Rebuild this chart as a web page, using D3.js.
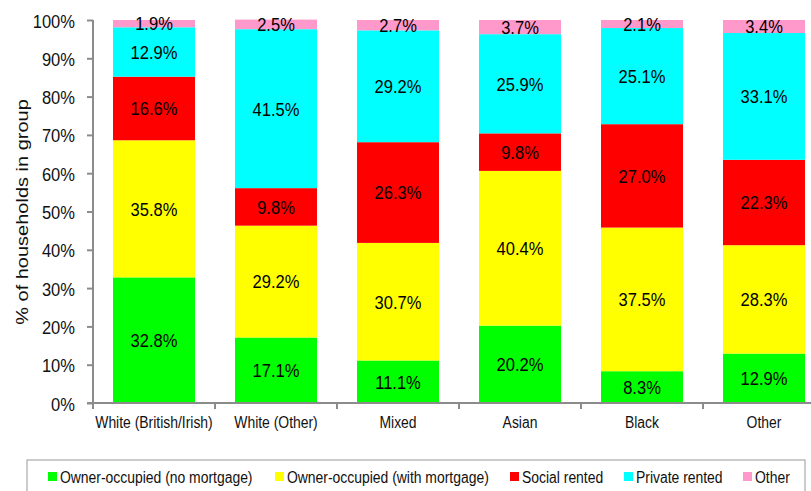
<!DOCTYPE html>
<html lang="en"><head>
<meta charset="utf-8">
<title>tenure by ethnic group</title>
<script type="text/javascript" src="https://cdn.jsdelivr.net/npm/d3@7"></script>
<style type="text/css">
  body { margin: 0; background: #fff; }
  text { font-family: Arial, "Liberation Sans", sans-serif; }
</style>
</head>
<body>
<svg width="811" height="491"></svg>
<script type="text/javascript">

    var categories = ["White (British/Irish)", "White (Other)", "Mixed", "Asian", "Black", "Other"];
    var seriesNames = ["Owner-occupied (no mortgage)", "Owner-occupied (with mortgage)", "Social rented", "Private rented", "Other"];
    var seriesColors = ["#00ff00", "#ffff00", "#ff0000", "#00ffff", "#ff99cc"];

    var noMortgage   = [32.8, 17.1, 11.1, 20.2, 8.3, 12.9];
    var withMortgage = [35.8, 29.2, 30.7, 40.4, 37.5, 28.3];
    var socialRented = [16.6, 9.8, 26.3, 9.8, 27.0, 22.3];
    var privateRented = [12.9, 41.5, 29.2, 25.9, 25.1, 33.1];
    var otherTenure  = [1.9, 2.5, 2.7, 3.7, 2.1, 3.4];

    var yTicks = [0, 10, 20, 30, 40, 50, 60, 70, 80, 90, 100];

    var svg = d3.select("svg"),
        width = +svg.attr("width"),
        height = +svg.attr("height");

    // the original text looks a bit narrow, so squeeze it sideways
    var squeeze = 0.87;
    function at(px, py) { return "translate(" + px + "," + py + ") scale(" + squeeze + ",1)"; }

    var series = [noMortgage, withMortgage, socialRented, privateRented, otherTenure];

    // one row per category for d3.stack
    var rows = categories.map(function(c, i) {
        var r = {cat: c};
        seriesNames.forEach(function(s, j) { r[s] = series[j][i]; });
        return r;
    });

    var stacked = d3.stack().keys(seriesNames)(rows);

    var x = d3.scaleBand()
              .domain(categories)
              .range([93, 825])
              .paddingInner(0.328)
              .paddingOuter(0.164);

    var y = d3.scaleLinear()
              .domain([0, 100])
              .range([403, 20]);

    var color = d3.scaleOrdinal().domain(seriesNames).range(seriesColors);

    // bars
    var layer = svg.append("g")
       .selectAll("g")
       .data(stacked)
       .enter()
       .append("g")
       .attr("fill", function(d) { return color(d.key); });

    layer.selectAll("rect")
       .data(function(d) { return d; })
       .enter()
       .append("rect")
       .attr("x", function(d) { return x(d.data.cat); })
       .attr("y", function(d) { return y(d[1]); })
       .attr("width", x.bandwidth())
       .attr("height", function(d) { return y(d[0]) - y(d[1]); });

    // value labels in the middle of each piece
    layer.selectAll("text")
       .data(function(d) { return d.map(function(p) { p.key = d.key; return p; }); })
       .enter()
       .append("text")
       .attr("transform", function(d) {
           return at(x(d.data.cat) + x.bandwidth() / 2, y((d[0] + d[1]) / 2));
       })
       .attr("dy", "0.36em")
       .attr("text-anchor", "middle")
       .attr("fill", "#000")
       .style("font-size", "19px")
       .text(function(d) { return d.data[d.key].toFixed(1) + "%"; });

    // y axis
    var yAxis = svg.append("g")
       .attr("transform", "translate(93,0)")
       .call(d3.axisLeft(y).tickValues(yTicks).tickSize(6)
             .tickFormat(function(d) { return d + "%"; }));
    yAxis.selectAll("path, line").attr("stroke", "#8c8c8c").attr("stroke-width", 2);
    yAxis.select(".domain").attr("d", "M0,403V20");
    yAxis.selectAll("text")
       .attr("x", null)
       .attr("transform", at(-18, 1))
       .style("font-size", "19px")
       .attr("fill", "#111")
       .attr("font-family", null);

    // x axis
    var xAxis = svg.append("g")
       .attr("transform", "translate(0,403)");
    xAxis.append("line")
       .attr("x1", 87).attr("x2", 825)
       .attr("stroke", "#8c8c8c").attr("stroke-width", 2);
    xAxis.selectAll(".tick")
       .data(d3.range(categories.length + 1))
       .enter()
       .append("line")
       .attr("x1", function(i) { return 93 + i * x.step(); })
       .attr("x2", function(i) { return 93 + i * x.step(); })
       .attr("y1", 0).attr("y2", 6)
       .attr("stroke", "#8c8c8c").attr("stroke-width", 2);
    xAxis.selectAll("text")
       .data(categories)
       .enter()
       .append("text")
       .attr("transform", function(d) { return at(x(d) + x.bandwidth() / 2, 25); })
       .attr("text-anchor", "middle")
       .attr("fill", "#111")
       .style("font-size", "16px")
       .text(function(d) { return d; });

    // axis title
    svg.append("text")
       .attr("transform", "translate(28,212) rotate(-90) scale(1," + squeeze + ")")
       .attr("text-anchor", "middle")
       .attr("fill", "#111")
       .style("font-size", "20px")
       .text("% of households in group");

    // legend
    svg.append("rect")
       .attr("x", 27).attr("y", 460)
       .attr("width", 778).attr("height", 40)
       .attr("fill", "none")
       .attr("stroke", "#999")
       .attr("stroke-width", 1);

    var legendX = [48, 275, 510, 624, 743];
    var legend = svg.selectAll(".legend")
       .data(seriesNames)
       .enter()
       .append("g")
       .attr("class", "legend")
       .attr("transform", function(d, i) { return "translate(" + legendX[i] + ",472)"; });

    legend.append("rect")
       .attr("width", 9).attr("height", 9)
       .attr("fill", function(d) { return color(d); });

    legend.append("text")
       .attr("transform", at(12, 11))
       .attr("fill", "#111")
       .style("font-size", "16px")
       .text(function(d) { return d; });

</script>
</body>
</html>
